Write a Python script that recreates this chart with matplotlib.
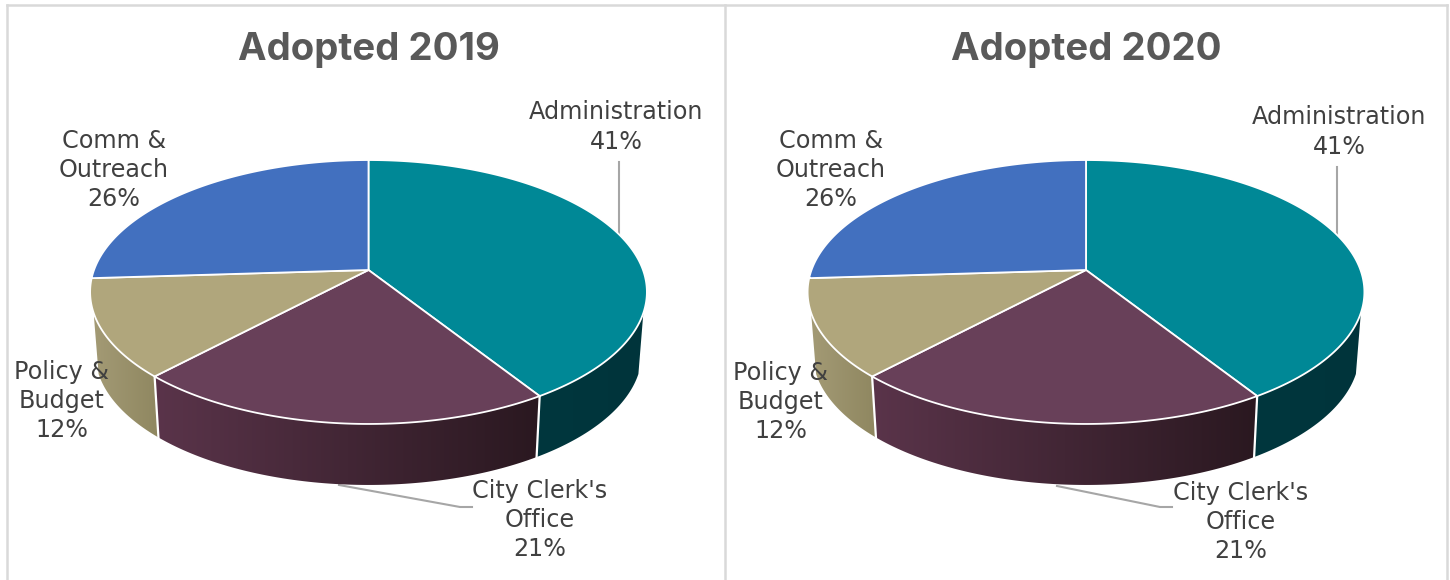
import numpy as np
import matplotlib
matplotlib.use("Agg")
import matplotlib.pyplot as plt
from matplotlib.patches import Polygon
from matplotlib.colors import LinearSegmentedColormap

departments = ["Administration", "City Clerk's\nOffice", "Policy &\nBudget", "Comm &\nOutreach"]
values_2019 = [41, 21, 12, 26]
values_2020 = [41, 21, 12, 26]
titles = ["Adopted 2019", "Adopted 2020"]

top_colors = ["#008896", "#684059", "#b0a67c", "#4270bf"]
# left and right colour of the side wall of each slice
wall_colors = [("#00373e", "#00343b"), ("#5a344a", "#2a1820"), ("#a39a75", "#8f8760"), ("#4270bf", "#4270bf")]

plt.rcParams["font.family"] = ["Inter", "DejaVu Sans"]

# pie shape, in pixels
RX = 274.5
RY = 128.3
TILT = 1 / 6
DEPTH = 61
SHRINK = 0.982
APEX_Y = 270
WALL_LIMIT = 0.3173  # the wall is hidden above this point of the rim


def rim(cx, deg, lower=False):
    # point on the pie edge, deg runs clockwise from 12 o'clock
    t = np.radians(deg)
    w = 1 + TILT * np.cos(t)
    x = RX * np.sin(t) / w
    y = APEX_Y - RY * np.cos(t) / w
    if lower:
        x = x * SHRINK
        y = y + DEPTH
    return cx + x, y


def draw_pie(ax, cx, values):
    shares = np.array(values) / sum(values) * 360
    ends = np.cumsum(shares)
    starts = ends - shares
    wall_a = np.degrees(np.arccos(-WALL_LIMIT))
    wall_b = 360 - wall_a

    # side walls first
    for i in range(len(values)):
        a = max(starts[i], wall_a)
        b = min(ends[i], wall_b)
        if b <= a:
            continue
        deg = np.linspace(a, b, 80)
        x1, y1 = rim(cx, deg)
        x2, y2 = rim(cx, deg[::-1], lower=True)
        pts = np.column_stack([np.r_[x1, x2], np.r_[y1, y2]])
        left, right = pts[:, 0].min(), pts[:, 0].max()
        grad = LinearSegmentedColormap.from_list("wall", wall_colors[i])
        im = ax.imshow(np.linspace(0, 1, 256).reshape(1, -1), cmap=grad, aspect="auto",
                       extent=(left, right, pts[:, 1].max(), pts[:, 1].min()), zorder=2)
        clip = Polygon(pts, closed=True, transform=ax.transData, fc="none", ec="none")
        ax.add_patch(clip)
        im.set_clip_path(clip)

    # white seams on the wall
    for e in ends:
        if wall_a < e < wall_b:
            x1, y1 = rim(cx, e)
            x2, y2 = rim(cx, e, lower=True)
            ax.plot([x1, x2], [y1, y2], color="white", lw=1.6, zorder=3)

    # top faces
    for i in range(len(values)):
        deg = np.linspace(starts[i], ends[i], 200)
        x, y = rim(cx, deg)
        ax.fill(np.r_[cx, x], np.r_[APEX_Y, y], facecolor=top_colors[i], edgecolor="white",
                linewidth=1.3, joinstyle="round", zorder=4)


fig = plt.figure(figsize=(14.5, 5.8), dpi=100, facecolor="white")
ax = fig.add_axes([0, 0, 1, 1])

draw_pie(ax, 368.5, values_2019)
draw_pie(ax, 1086, values_2020)

# chart frames
frame = "#d9d9d9"
ax.plot([7, 7], [5, 580], color=frame, lw=1.8, zorder=1)
ax.plot([725, 725], [5, 580], color=frame, lw=1.8, zorder=1)
ax.plot([1447, 1447], [5, 580], color=frame, lw=1.8, zorder=1)
ax.plot([7, 1447], [5, 5], color=frame, lw=1.8, zorder=1)

# leader lines
lead = "#a6a6a6"
ax.plot([619, 619], [162, 236], color=lead, lw=1.5, zorder=1)
ax.plot([339, 460, 472], [485, 507, 507], color=lead, lw=1.5, zorder=1)
ax.plot([1337, 1337], [167, 236], color=lead, lw=1.5, zorder=1)
ax.plot([1057, 1160, 1172], [486, 507, 507], color=lead, lw=1.5, zorder=1)

ax.text(369, 50, titles[0], ha="center", va="center", fontsize=27.6, fontweight="bold", color="#595959", zorder=6)
ax.text(1086, 50, titles[1], ha="center", va="center", fontsize=27.6, fontweight="bold", color="#595959", zorder=6)

label_pos_2019 = [(616, 127), (540, 520), (62, 401), (114, 170)]
label_pos_2020 = [(1339, 132), (1241, 522), (781, 402), (831, 170)]
for values, positions in ((values_2019, label_pos_2019), (values_2020, label_pos_2020)):
    for name, val, (tx, ty) in zip(departments, values, positions):
        ax.text(tx, ty, f"{name}\n{val}%", ha="center", va="center", fontsize=17.2,
                family="DejaVu Sans", color="#404040", linespacing=1.27, zorder=6)

ax.set_xlim(0, 1450)
ax.set_ylim(580, 0)
ax.axis("off")

fig.savefig("out.png", dpi=100)
